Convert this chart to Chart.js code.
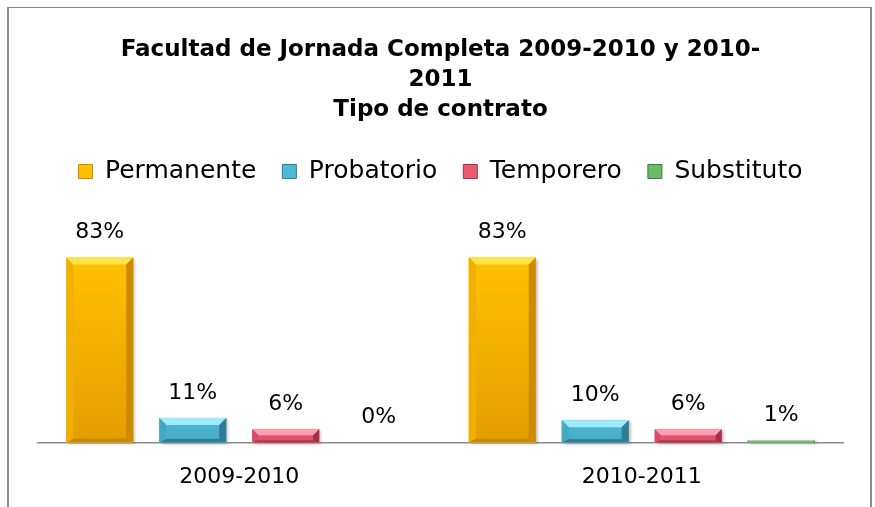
<!DOCTYPE html>
<html>
<head>
<meta charset="utf-8">
<script src="https://cdn.jsdelivr.net/npm/chart.js@4.4.1/dist/chart.umd.min.js"></script>
<style>
  html, body { margin: 0; padding: 0; background: #fff; }
  #wrap { position: relative; width: 875px; height: 507px; overflow: hidden; }
  #frame {
    position: absolute; left: 7px; top: 7px; width: 865px; height: 600px;
    box-sizing: border-box; border: 2px solid #8a8a8a; border-top-width: 1px; border-bottom: none;
    pointer-events: none;
  }
  canvas { position: absolute; left: 0; top: 0; }
</style>
</head>
<body>
<div id="wrap">
  <canvas id="chart" width="875" height="515"></canvas>
  <div id="frame"></div>
</div>
<script>
'use strict';

// ── Data ──────────────────────────────────────────
const YEARS = ['2009-2010', '2010-2011'];
const SERIES = ['Permanente', 'Probatorio', 'Temporero', 'Substituto'];
const PERMANENTE = [83, 83];
const PROBATORIO = [11, 10];
const TEMPORERO  = [6, 6];
const SUBSTITUTO = [0, 1];
const TITLE_LINES = ['Facultad de Jornada Completa 2009-2010 y 2010-', '2011', 'Tipo de contrato'];

// light bevel / body top / body bottom / dark edge
const TONES = [
    { light: '#FFE34D', base: '#FFC000', low: '#E39E00', dark: '#CC8A00' },
    { light: '#9BEBFA', base: '#4FBAD6', low: '#3C98B2', dark: '#2E7D94' },
    { light: '#FFA0B0', base: '#EC5A72', low: '#C94560', dark: '#A5304A' },
    { light: '#A8E0A8', base: '#6CBB6C', low: '#4F9A4F', dark: '#3C7D3C' },
];

Chart.defaults.font.family = "'DejaVu Sans', sans-serif";
Chart.defaults.color = '#000';

/* ── Bevelled bars ─────────────────────────────────── */
const bevelPlugin = {
    id: 'bevel',
    afterDatasetsDraw(chart) {
        const ctx = chart.ctx;
        chart.data.datasets.forEach((ds, di) => {
            const t = TONES[di];
            chart.getDatasetMeta(di).data.forEach(el => {
                const p = el.getProps(['x', 'y', 'base', 'width'], true);
                const l = p.x - p.width / 2, r = p.x + p.width / 2;
                const top = Math.min(p.y, p.base), bot = Math.max(p.y, p.base);
                const h = bot - top;
                if (h <= 0) return;
                const b = Math.min(7, h * 0.45);
                const bb = Math.min(4, h * 0.15);
                ctx.save();
                ctx.shadowColor = 'rgba(0,0,0,0.28)';
                ctx.shadowOffsetX = 2; ctx.shadowOffsetY = 1; ctx.shadowBlur = 3;
                ctx.fillStyle = '#fff';
                ctx.fillRect(l, top, p.width, h);
                ctx.restore();

                const g = ctx.createLinearGradient(0, top, 0, bot);
                g.addColorStop(0, t.base);
                g.addColorStop(1, h > 40 ? t.low : mix(t.base, t.low, 0.5));
                ctx.fillStyle = g;
                ctx.fillRect(l, top, p.width, h);
                poly(ctx, [[l, top], [r, top], [r - b, top + b], [l + b, top + b]], t.light);
                poly(ctx, [[l, top], [l + b, top + b], [l + b, bot - bb], [l, bot]], mix(t.base, t.dark, 0.3));
                poly(ctx, [[r, top], [r - b, top + b], [r - b, bot - bb], [r, bot]], t.dark);
                poly(ctx, [[l, bot], [l + b, bot - bb], [r - b, bot - bb], [r, bot]], t.dark);
            });
        });
    }
};

function poly(ctx, pts, color) {
    ctx.beginPath();
    ctx.moveTo(pts[0][0], pts[0][1]);
    for (let i = 1; i < pts.length; i++) ctx.lineTo(pts[i][0], pts[i][1]);
    ctx.closePath();
    ctx.fillStyle = color;
    ctx.fill();
}

function mix(a, b, k) {
    const pa = [1, 3, 5].map(i => parseInt(a.substr(i, 2), 16));
    const pb = [1, 3, 5].map(i => parseInt(b.substr(i, 2), 16));
    return 'rgb(' + pa.map((v, i) => Math.round(v + (pb[i] - v) * k)).join(',') + ')';
}

/* ── Value labels ──────────────────────────────────── */
const labelPlugin = {
    id: 'valueLabels',
    afterDatasetsDraw(chart) {
        const ctx = chart.ctx;
        ctx.save();
        ctx.font = "22px 'DejaVu Sans', sans-serif";
        ctx.fillStyle = '#000';
        ctx.textAlign = 'center';
        ctx.textBaseline = 'middle';
        chart.data.datasets.forEach((ds, di) => {
            chart.getDatasetMeta(di).data.forEach((el, i) => {
                ctx.fillText(ds.data[i] + '%', el.x, el.y - 25);
            });
        });
        ctx.restore();
    }
};

const seriesValues = [PERMANENTE, PROBATORIO, TEMPORERO, SUBSTITUTO];

new Chart(document.getElementById('chart'), {
    type: 'bar',
    data: {
        labels: YEARS,
        datasets: SERIES.map((name, i) => ({
            label: name,
            data: seriesValues[i],
            backgroundColor: TONES[i].base,
            borderColor: TONES[i].dark,
            borderWidth: 0,
            categoryPercentage: 0.924,
            barPercentage: 0.72,
        }))
    },
    options: {
        responsive: false,
        animation: false,
        layout: { padding: { left: 38, right: 32, top: 0, bottom: 4 } },
        plugins: {
            title: {
                display: true,
                text: TITLE_LINES,
                font: { size: 23, weight: 'bold', lineHeight: 1.304 },
                padding: { top: 35, bottom: 8 },
            },
            legend: {
                labels: {
                    font: { size: 25 },
                    boxWidth: 14,
                    boxHeight: 14,
                    padding: 26,
                    generateLabels(chart) {
                        return Chart.defaults.plugins.legend.labels.generateLabels(chart).map(it => {
                            it.lineWidth = 1;
                            it.strokeStyle = TONES[it.datasetIndex].dark;
                            return it;
                        });
                    }
                }
            },
            tooltip: { enabled: false }
        },
        scales: {
            x: {
                grid: { display: false, drawTicks: false },
                border: { display: true, color: '#8c8c8c', width: 1.5 },
                ticks: { font: { size: 22 }, padding: 21, color: '#000' }
            },
            y: {
                display: false,
                min: 0,
                max: 111.5
            }
        }
    },
    plugins: [bevelPlugin, labelPlugin]
});
</script>
</body>
</html>
